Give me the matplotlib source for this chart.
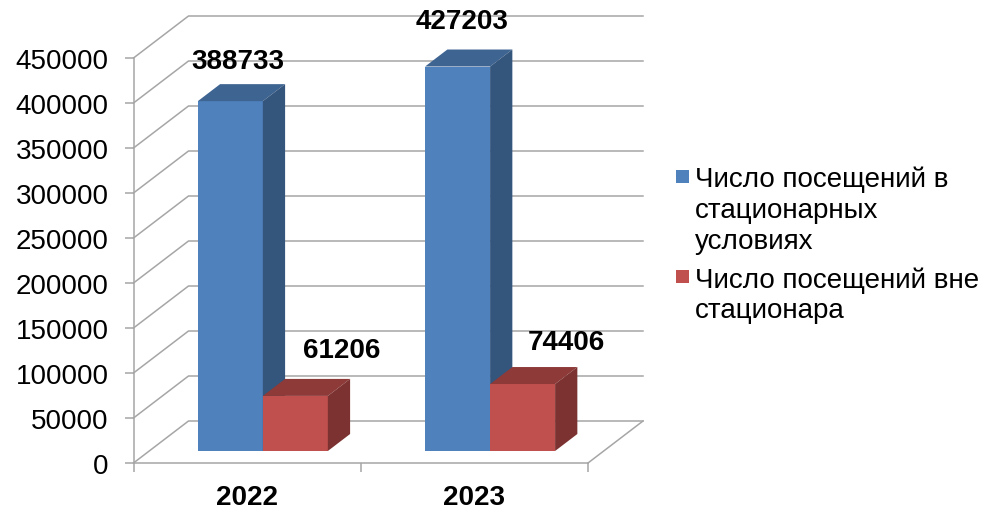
import numpy as np
import matplotlib
matplotlib.use("Agg")
import matplotlib.pyplot as plt
from matplotlib.patches import Rectangle

plt.rcParams['font.family'] = ['Liberation Sans', 'DejaVu Sans']

years = ['2022', '2023']
inpatient = [388733, 427203]
outpatient = [61206, 74406]
series_names = ['Число посещений в\nстационарных\nусловиях', 'Число посещений вне\nстационара']
yticks = list(range(0, 450001, 50000))

W, H = 982, 510
x_left, x_right = 133.5, 588
y_zero, y_top = 464, 59
px_per_cat = (x_right - x_left) / 2
px_per_val = (y_zero - y_top) / 450000

# chart depth in data units (the 3d look is a sheared offset)
dx = 55 / px_per_cat
dy = 42 / px_per_val
bar_w = 65 / px_per_cat
bar_start = 12 / 42   # where bars sit on the floor, 0 front, 1 back
bar_depth = 17 / 42

grid_col = '#A6A6A6'
blue = ['#4F81BD', '#3E6492', '#34557C']
red = ['#C0504D', '#8D3A38', '#7B3230']

fig = plt.figure(figsize=(W / 100, H / 100), dpi=100)
ax = fig.add_axes([x_left / W, 1 - y_zero / H, (x_right - x_left) / W, (y_zero - y_top) / H])
ax.set_xlim(0, 2)
ax.set_ylim(0, 450000)
ax.patch.set_alpha(0)


def line(xs, ys):
    ax.plot(xs, ys, color=grid_col, lw=1.1, zorder=1, clip_on=False, solid_capstyle='projecting')


# back wall lines and side wall diagonals
for v in yticks:
    line([0, dx, 2 + dx], [v, v + dy, v + dy])
line([2, 2 + dx], [0, dy])


def box(left, value, cols, z):
    x0 = left + bar_start * dx
    base = bar_start * dy
    ox, oy = bar_depth * dx, bar_depth * dy
    ax.bar(x0, value, bar_w, bottom=base, align='edge', color=cols[0], zorder=z, clip_on=False)
    top = base + value
    ax.fill([x0, x0 + bar_w, x0 + bar_w + ox, x0 + ox], [top, top, top + oy, top + oy],
            color=cols[1], lw=0, zorder=z, clip_on=False)
    x1 = x0 + bar_w
    ax.fill([x1, x1 + ox, x1 + ox, x1], [base, base + oy, top + oy, top],
            color=cols[2], lw=0, zorder=z, clip_on=False)


for i in range(len(years)):
    box(i + 0.5 - bar_w, inpatient[i], blue, 2 + i)
    box(i + 0.5, outpatient[i], red, 2.5 + i)

# data labels were moved by hand in the original, so offsets in pixels from bar top
label_off = [(8, 40), (4, 46)]
label_off2 = [(46, 46), (44, 42)]
for i in range(len(years)):
    for val, off, shift in [(inpatient[i], label_off[i], -bar_w / 2), (outpatient[i], label_off2[i], bar_w / 2)]:
        ax.annotate(str(val), (i + 0.5 + shift + bar_start * dx, val + bar_start * dy),
                    xytext=(off[0] * 0.72, off[1] * 0.72), textcoords='offset points',
                    ha='center', va='center', fontsize=20, fontweight='bold', color='black',
                    annotation_clip=False, zorder=10)

for s in ['top', 'right']:
    ax.spines[s].set_visible(False)
for s in ['left', 'bottom']:
    ax.spines[s].set_color(grid_col)
    ax.spines[s].set_linewidth(1.1)

ax.set_yticks(yticks)
ax.set_yticklabels([str(v) for v in yticks])
ax.tick_params(axis='y', length=6.5, width=1.1, color=grid_col, pad=11.5, labelsize=20, labelcolor='black')
ax.set_xticks([0, 1, 2])
ax.set_xticklabels(['', '', ''])
ax.tick_params(axis='x', which='major', length=6.5, width=1.1, color=grid_col)
ax.set_xticks([0.5, 1.5], minor=True)
ax.set_xticklabels(years, minor=True, fontsize=20, fontweight='bold')
ax.tick_params(axis='x', which='minor', length=0, pad=15)

# legend by hand, fig.legend centres the swatch on the whole wrapped label
legend_tops = [167, 267]
for name, col, ty in zip(series_names, [blue[0], red[0]], legend_tops):
    fig.add_artist(Rectangle((676 / W, 1 - (ty + 16.5) / H), 13 / W, 13 / H, color=col, lw=0,
                             transform=fig.transFigure))
    fig.text(695 / W, 1 - ty / H, name, fontsize=20, va='top', ha='left', linespacing=1.25, color='black')

fig.savefig('out.png', dpi=100)
